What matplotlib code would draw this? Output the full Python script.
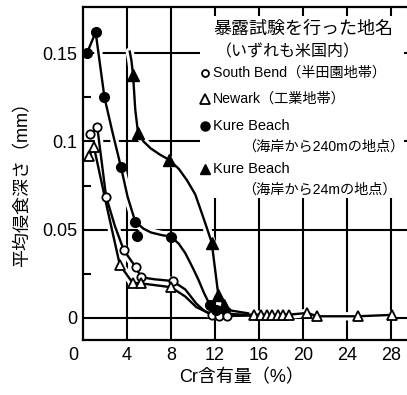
import matplotlib
matplotlib.use('Agg')
import matplotlib.pyplot as plt
import matplotlib.patheffects as pe
from matplotlib.patches import Rectangle
from matplotlib.lines import Line2D
from matplotlib.transforms import ScaledTranslation
import logging
logging.getLogger('matplotlib.font_manager').setLevel(logging.ERROR)

# ---------------- data ----------------
x_ticks = [0, 4, 8, 12, 16, 20, 24, 28]
x_tick_labels = ['0', '4', '8', '12', '16', '20', '24', '28']
y_ticks = [0, 0.05, 0.1, 0.15]
y_tick_labels = ['0', '0.05', '0.1', '0.15']
y_minor = [0.025, 0.075, 0.125]

# South Bend (open circles)
sb_x = [0.65, 1.3, 2.1, 3.7, 4.8, 5.3, 8.15, 11.7, 12.35, 13.05]
sb_y = [0.1042, 0.108, 0.0687, 0.0384, 0.0286, 0.0229, 0.0208, 0.0015, 0.001, 0.001]
sb_curve_x = [0.65, 1.3, 2.1, 2.9, 3.7, 4.8, 5.3, 6.5, 8.15, 9.3, 10.3, 11.0, 11.7, 12.35, 13.05, 15.5]
sb_curve_y = [0.1042, 0.108, 0.0687, 0.052, 0.0384, 0.0286, 0.0229, 0.0218, 0.0208, 0.016, 0.008, 0.004, 0.0015, 0.001, 0.001, 0.0012]

# Newark (open triangles)
nw_x = [0.55, 1.0, 3.35, 4.5, 5.25, 8.0, 15.5, 16.2, 16.7, 17.2, 17.7, 18.2, 18.7, 20.4, 21.3, 25.0, 28.1]
nw_y = [0.0917, 0.0967, 0.0299, 0.0199, 0.0195, 0.0173, 0.0017, 0.0017, 0.0017, 0.0017, 0.0017, 0.0017,
        0.0017, 0.0027, 0.0008, 0.0008, 0.0016]
nw_curve_x = [0.55, 1.0, 2.2, 3.35, 4.5, 5.25, 6.5, 8.0, 9.3, 10.3, 11.3, 12.5, 14.0, 15.5, 18.7, 20.4, 21.3, 25.0, 28.1]
nw_curve_y = [0.0917, 0.0967, 0.062, 0.0299, 0.0199, 0.0195, 0.0185, 0.0173, 0.012, 0.006, 0.003, 0.002, 0.0017,
              0.0017, 0.0017, 0.0027, 0.0008, 0.0008, 0.0016]

# Kure Beach 240 m (filled circles)
k240_x = [0.35, 1.15, 1.95, 3.45, 4.75, 4.9, 8.0, 11.55, 12.1]
k240_y = [0.150, 0.162, 0.125, 0.0855, 0.0545, 0.0465, 0.046, 0.0070, 0.0045]
k240_curve_x = [0.35, 1.15, 1.95, 2.7, 3.45, 4.05, 4.75, 5.5, 6.2, 7.2, 8.0, 8.7, 9.3, 10.0, 10.5, 11.0, 11.55,
                12.1, 13.0, 14.5]
k240_curve_y = [0.150, 0.162, 0.125, 0.1047, 0.0855, 0.0687, 0.0545, 0.0505, 0.0483, 0.0468, 0.046, 0.042, 0.0366,
                0.028, 0.0214, 0.014, 0.007, 0.0045, 0.0025, 0.0015]

# Kure Beach 24 m (filled triangles)
k24_x = [4.55, 5.0, 7.85, 11.7, 12.3, 12.8]
k24_y = [0.1377, 0.105, 0.0895, 0.0426, 0.0129, 0.0072]
k24_curve_x = [4.25, 4.4, 4.55, 4.75, 5.0, 5.5, 6.15, 7.0, 7.85, 8.7, 9.45, 10.2, 10.7, 11.2, 11.7, 12.3, 12.8,
               13.5, 15.0]
k24_curve_y = [0.151, 0.146, 0.1377, 0.118, 0.105, 0.1000, 0.0961, 0.0925, 0.0895, 0.0845, 0.078, 0.07, 0.0611,
               0.052, 0.0426, 0.0129, 0.0072, 0.004, 0.0025]

legend_title = ['暴露試験を行った地名', '（いずれも米国内）']
legend_names = ['South Bend（半田園地帯）', 'Newark（工業地帯）', 'Kure Beach', '（海岸から240mの地点）',
                'Kure Beach', '（海岸から24mの地点）']
x_label = 'Cr含有量（%）'
y_label = '平均侵食深さ（mm）'

# ---------------- figure ----------------
W, H, DPI = 407, 395, 100
LAT = ['Liberation Sans', 'Noto Sans CJK JP']
JP = ['Noto Sans CJK JP', 'Liberation Sans']

fig = plt.figure(figsize=(W / DPI, H / DPI), dpi=DPI)
L, R, T, B = 83, 407, 7, 340
ax = fig.add_axes([L / W, (H - B) / H, (R - L) / W, (B - T) / H])
ax.set_xlim(0, 29.45)
ax.set_ylim(-0.01266, 0.1763)

for s in ['left', 'bottom', 'top']:
    ax.spines[s].set_linewidth(1.6)
ax.spines['right'].set_visible(False)

for xv in x_ticks[1:]:
    ax.axvline(xv, color='black', lw=1.5, zorder=1)
for yv in y_ticks:
    ax.axhline(yv, color='black', lw=1.5, zorder=1)

ax.set_xticks(x_ticks)
ax.set_xticklabels(x_tick_labels, fontfamily=LAT, fontsize=13)
ax.set_yticks(y_ticks)
ax.set_yticklabels(y_tick_labels, fontfamily=LAT, fontsize=13)
ax.set_yticks(y_minor, minor=True)
ax.tick_params(axis='both', which='major', length=0)
ax.tick_params(axis='x', which='major', pad=5)
ax.tick_params(axis='y', which='major', pad=4)
ax.tick_params(axis='y', which='minor', direction='in', length=6, width=1.5)
ax.tick_params(axis='x', which='minor', length=0)
lbl0 = ax.xaxis.get_major_ticks()[0].label1
lbl0.set_transform(lbl0.get_transform() + ScaledTranslation(-10 / DPI, 0, fig.dpi_scale_trans))

halo = [pe.Stroke(linewidth=6, foreground='white')]
LW = 1.7
curves = [(sb_curve_x, sb_curve_y), (nw_curve_x, nw_curve_y), (k240_curve_x, k240_curve_y),
          (k24_curve_x, k24_curve_y)]
for cx, cy in curves:
    ax.plot(cx, cy, color='white', lw=LW, zorder=3, path_effects=halo, solid_capstyle='round')
for cx, cy in curves:
    ax.plot(cx, cy, color='black', lw=LW, zorder=4, solid_joinstyle='round')

ax.plot(sb_x, sb_y, ls='none', marker='o', ms=6, mfc='white', mec='black', mew=1.3, zorder=6)
ax.plot(nw_x, nw_y, ls='none', marker='^', ms=7.5, mfc='white', mec='black', mew=1.3, zorder=6)
ax.plot(k240_x, k240_y, ls='none', marker='o', ms=7, mfc='black', mec='black', zorder=6)
ax.plot(k24_x, k24_y, ls='none', marker='^', ms=8.5, mfc='black', mec='black', zorder=6)

# ---------------- legend block ----------------
fig.add_artist(Rectangle((200 / W, 1 - 198 / H), (404 - 200) / W, (198 - 16) / H,
                         transform=fig.transFigure, facecolor='white', edgecolor='none', zorder=5))


def ftxt(px, py, s, size, fam):
    fig.text(px / W, 1 - py / H, s, ha='left', va='center', fontsize=size, fontfamily=fam, zorder=6)


ftxt(213, 29, legend_title[0], 13, JP)
ftxt(216, 52, legend_title[1], 11.5, JP)
ftxt(213, 73, legend_names[0], 10.2, LAT)
ftxt(213, 99, legend_names[1], 10.2, LAT)
ftxt(213, 126, legend_names[2], 10.5, LAT)
ftxt(242, 147, legend_names[3], 10.2, LAT)
ftxt(213, 169, legend_names[4], 10.5, LAT)
ftxt(242, 190, legend_names[5], 10.2, LAT)


def fmark(px, py, **kw):
    fig.add_artist(Line2D([px / W], [1 - py / H], transform=fig.transFigure, ls='none', zorder=7, **kw))


fmark(205, 73, marker='o', ms=5, mfc='white', mec='black', mew=1.3)
fmark(205, 99, marker='^', ms=6.5, mfc='white', mec='black', mew=1.3)
fmark(205, 126, marker='o', ms=6.5, mfc='black', mec='black')
fmark(205, 169, marker='^', ms=7.5, mfc='black', mec='black')

# ---------------- axis labels ----------------
fig.text(242 / W, 1 - 378 / H, x_label, ha='center', va='center', fontsize=13, fontfamily=LAT)
fig.text(23 / W, 1 - 180 / H, y_label, ha='center', va='center', rotation=90, fontsize=13, fontfamily=LAT)

fig.savefig('out.png', dpi=DPI)
